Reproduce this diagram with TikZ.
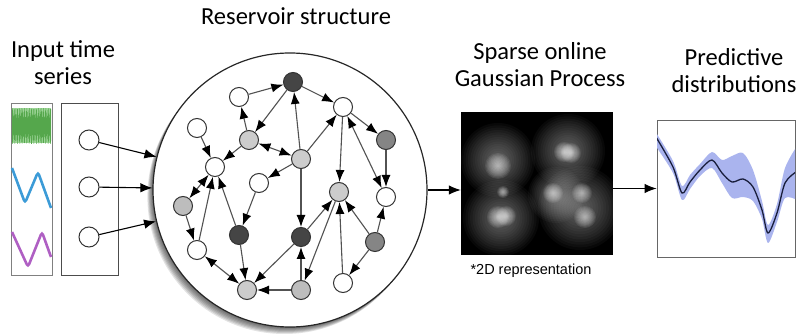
\documentclass[tikz,border=0pt]{standalone}
\usepackage{fontspec}
\setmainfont{Carlito}
\newfontfamily\capfont{Liberation Sans}
\usepackage{xcolor}
\usetikzlibrary{arrows.meta}

\definecolor{nodedark}{gray}{0.27}
\definecolor{nodemid}{gray}{0.52}
\definecolor{nodelight}{gray}{0.80}
\definecolor{nodelighter}{gray}{0.74}
\definecolor{edgegray}{gray}{0.32}
\definecolor{tsgreen}{RGB}{95,185,85}
\definecolor{tsblue}{RGB}{60,155,215}
\definecolor{tspurple}{RGB}{175,95,195}
\definecolor{bandblue}{RGB}{170,180,238}
\definecolor{meanline}{RGB}{25,30,60}

\tikzset{
  rnode/.style={circle, draw=black!80, line width=1pt, minimum size=19pt, inner sep=0pt, fill=white},
  edge/.style={draw=edgegray, line width=1.1pt, -{Latex[length=12pt,width=9pt,color=black]}},
  bedge/.style={draw=edgegray, line width=1.1pt, {Latex[length=12pt,width=9pt,color=black]}-{Latex[length=12pt,width=9pt,color=black]}},
  flow/.style={draw=black, line width=1.1pt, -{Latex[length=12pt,width=9.5pt]}},
  title/.style={font=\fontsize{24.5}{27}\selectfont, align=center},
}

\begin{document}
\begin{tikzpicture}[x=1pt,y=-1pt]
    \useasboundingbox (0,0) rectangle (798,336);
    % titles
    \node[title] (tin) at (63,63) {Input time\\series};
    \node[title] (tres) at (296,16) {Reservoir structure};
    \node[title] (tgp) at (540,65) {Sparse online\\Gaussian Process};
    \node[title] (tpred) at (734,71) {Predictive\\distributions};

    % time series
    \draw[gray, line width=0.8pt] (11,103) rectangle (52,275);
    \fill[tsgreen!60] (12,108) rectangle (51,143);
    \draw[tsgreen!90!black, line width=0.5pt] plot[variable=\t, domain=0:160, samples=161] ({12+\t*39/160}, {126 + (13+5*sin(\t*37))*cos(mod(\t,2)*180)});
    \draw[tsblue, line width=2.6pt, rounded corners=3pt] (12,168) -- (25,203) -- (38,172) -- (51,208);
    \draw[tspurple, line width=2.6pt, rounded corners=3pt] (12,232) -- (28,267) -- (42,232) -- (51,257);

    % input layer
    \draw[black!70, line width=0.8pt] (61,103) rectangle (118,275);
    \node[rnode, minimum size=20pt] (u1) at (89,140) {};
    \node[rnode, minimum size=20pt] (u2) at (89,187) {};
    \node[rnode, minimum size=20pt] (u3) at (89,237) {};

    % reservoir shadow and circle
    \foreach \d in {1,...,7}
      \fill[black, opacity=0.11] ({290-0.8*\d},{190+1.0*\d}) circle[radius=137];
    \node[circle, draw=black!85, line width=1.2pt, fill=white, minimum size=274pt, inner sep=0pt] (res) at (290,190) {};

    \draw[flow] (u1) -- (res);
    \draw[flow] (u2) -- (res);
    \draw[flow] (u3) -- (res);

    % reservoir nodes
    \node[rnode, fill=nodedark] (r1) at (293,82) {};
    \node[rnode] (r2) at (239,97) {};
    \node[rnode] (r3) at (343,107) {};
    \node[rnode] (r4) at (197,128) {};
    \node[rnode, fill=nodelight] (r5) at (249,140) {};
    \node[rnode, fill=nodemid] (r6) at (386,140) {};
    \node[rnode, fill=nodelight] (r7) at (301,159) {};
    \node[rnode] (r8) at (215,167) {};
    \node[rnode] (r9) at (259,183) {};
    \node[rnode, fill=nodelight] (r10) at (339,192) {};
    \node[rnode] (r11) at (386,197) {};
    \node[rnode, fill=nodelighter] (r12) at (183,206) {};
    \node[rnode, fill=nodedark] (r13) at (239,235) {};
    \node[rnode, fill=nodedark] (r14) at (301,237) {};
    \node[rnode, fill=nodemid] (r15) at (375,242) {};
    \node[rnode] (r16) at (197,250) {};
    \node[rnode, fill=nodelight] (r17) at (247,290) {};
    \node[rnode, fill=nodelighter] (r18) at (301,290) {};
    \node[rnode] (r19) at (343,283) {};

    % reservoir edges
    \draw[edge] (r2) -- (r1);
    \draw[edge] (r1) -- (r5);
    \draw[edge] (r5) -- (r2);
    \draw[edge] (r1) -- (r3);
    \draw[edge] (r7) -- (r1);
    \draw[edge] (r7) -- (r3);
    \draw[bedge] (r5) -- (r7);
    \draw[edge] (r5) -- (r8);
    \draw[edge] (r4) -- (r8);
    \draw[edge] (r7) -- (r9);
    \draw[edge] (r7) -- (r14);
    \draw[edge] (r3) -- (r6);
    \draw[edge] (r3) -- (r10);
    \draw[bedge] (r3) -- (r11);
    \draw[edge] (r6) -- (r11);
    \draw[bedge] (r8) -- (r12);
    \draw[edge] (r12) -- (r16);
    \draw[edge] (r16) -- (r8);
    \draw[edge] (r13) -- (r8);
    \draw[edge] (r9) -- (r13);
    \draw[edge] (r13) -- (r17);
    \draw[bedge] (r16) -- (r17);
    \draw[edge] (r14) -- (r17);
    \draw[edge] (r18) -- (r17);
    \draw[edge] (r18) -- (r14);
    \draw[edge] (r14) -- (r10);
    \draw[edge] (r10) -- (r18);
    \draw[edge] (r19) -- (r10);
    \draw[edge] (r15) -- (r10);
    \draw[edge] (r15) -- (r11);
    \draw[edge] (r15) -- (r19);

    % gaussian process (2D)
    \node[fill=black, minimum width=152pt, minimum height=143pt, inner sep=0pt] (gp) at (537,183.5) {};
    \begin{scope}
      \clip (461,112) rectangle (613,255);
      \foreach \cx/\cy/\r in {498/160/37, 501/218/38, 568/151/37, 556/195/28, 580/208/42}
        \foreach \k in {1,...,16}
          \fill[white, opacity=0.032] (\cx,\cy) circle[radius={\r*\k/16}];
      \foreach \cx/\cy/\r in {498/166/13, 498/217/11, 506/216/10, 503/192/6, 564/152/10, 571/153/10, 553/193/10, 582/193/10, 585/217/11}
        \foreach \k in {1,...,10}
          \fill[white, opacity=0.08] (\cx,\cy) circle[radius={\r*\k/10}];
    \end{scope}
    \node[font=\capfont\fontsize{14.5}{16}\selectfont] (cap) at (531,271) {*2D representation};

    % predictive distributions
    \node[draw=black!60, line width=0.8pt, minimum width=138pt, minimum height=137pt, inner sep=0pt] (pred) at (726,188.5) {};
    \begin{scope}
      \clip (657,120) rectangle (795,257);
      \fill[bandblue] plot[smooth] coordinates {(655,131) (673,161) (682,186) (690,175) (700,164) (712,152) (722,160) (732,156) (743,153) (753,170) (762,201) (768,225) (777,204) (785,168) (797,146)}
        -- plot[smooth] coordinates {(797,200) (785,198) (777,222) (768,243) (762,219) (753,201) (743,197) (732,198) (722,183) (712,168) (700,176) (690,189) (682,200) (673,173) (655,145)} -- cycle;
      \draw[meanline, line width=1.3pt] plot[smooth] coordinates {(656,137) (673,167) (682,193) (690,182) (700,170) (712,160) (722,173) (732,182) (743,179) (753,187) (762,210) (768,233) (777,213) (785,183) (796,172)};
    \end{scope}

    % flow arrows
    \draw[flow] (res.east) -- (gp.west |- res.east);
    \draw[flow] (gp.east |- pred.west) -- (pred.west);
\end{tikzpicture}
\end{document}
